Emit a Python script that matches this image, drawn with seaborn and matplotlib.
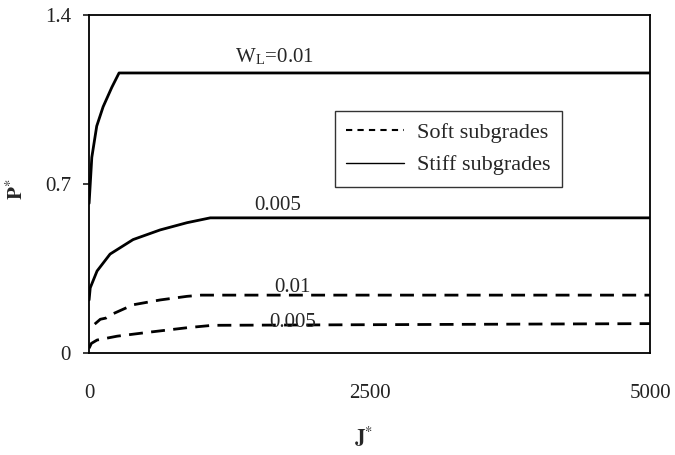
import matplotlib
matplotlib.use("Agg")
import matplotlib.pyplot as plt
import seaborn as sns
import pandas as pd
from matplotlib.lines import Line2D

# ---- data ----
stiff_001_J = [0, 24, 68, 125, 202, 267, 5000]
stiff_001_P = [0.62, 0.81, 0.94, 1.02, 1.10, 1.16, 1.16]

stiff_0005_J = [0, 10, 71, 187, 392, 633, 873, 1080, 5000]
stiff_0005_P = [0.22, 0.27, 0.34, 0.41, 0.47, 0.51, 0.54, 0.56, 0.56]

soft_001_J = [50, 100, 150, 200, 392, 633, 873, 1000, 5000]
soft_001_P = [0.12, 0.14, 0.145, 0.16, 0.20, 0.22, 0.235, 0.24, 0.24]

soft_0005_J = [0, 20, 71, 250, 544, 873, 1100, 5000]
soft_0005_P = [0.02, 0.04, 0.054, 0.07, 0.087, 0.105, 0.115, 0.122]

x_ticks = [0, 2500, 5000]
y_ticks = [0, 0.7, 1.4]
y_tick_labels = ["0", "0.7", "1.4"]

frames = []
for J, P, sub, wl in [
    (soft_001_J, soft_001_P, "Soft subgrades", "0.01"),
    (soft_0005_J, soft_0005_P, "Soft subgrades", "0.005"),
    (stiff_001_J, stiff_001_P, "Stiff subgrades", "0.01"),
    (stiff_0005_J, stiff_0005_P, "Stiff subgrades", "0.005"),
]:
    frames.append(pd.DataFrame({"J": J, "P": P, "Subgrade": sub, "WL": wl}))
df = pd.concat(frames, ignore_index=True)

sns.set_theme(style="white")
plt.rcParams["font.family"] = ["Liberation Serif", "DejaVu Serif"]
plt.rcParams["mathtext.fontset"] = "stix"

FS = 15

fig = plt.figure(figsize=(6.75, 4.55), dpi=100)
ax = fig.add_axes([0.132, 0.224, 0.831, 0.743])

sns.lineplot(data=df, x="J", y="P", style="Subgrade", units="WL",
             estimator=None, color="black", linewidth=2.0,
             dashes={"Soft subgrades": (5, 3), "Stiff subgrades": ""},
             style_order=["Soft subgrades", "Stiff subgrades"],
             legend=False, ax=ax)

ax.set_xlim(0, 5000)
ax.set_ylim(0, 1.4)
ax.set_xticks(x_ticks)
ax.set_xticklabels([str(v) for v in x_ticks])
ax.set_yticks(y_ticks)
ax.set_yticklabels(y_tick_labels)
ax.tick_params(axis="x", length=0, pad=22, labelsize=FS, colors="#222222")
ax.tick_params(axis="y", length=4, pad=9, labelsize=FS, colors="#222222",
               direction="out", left=True)
for s in ax.spines.values():
    s.set_color("black")
    s.set_linewidth(1.3)

ax.set_xlabel("")
ax.set_ylabel("")
fig.text(0.538, 0.04, r"$\mathbf{J}^{*}$", fontsize=15, ha="center", va="center")
fig.text(0.025, 0.585, r"$\mathbf{P}^{*}$", fontsize=15, ha="center", va="center",
         rotation=90)

ax.text(1649, 1.226, r"W$_\mathregular{L}$=0.01", fontsize=FS, ha="center", va="center")
ax.text(1684, 0.613, "0.005", fontsize=FS, ha="center", va="center")
ax.text(1810, 0.273, "0.01", fontsize=FS, ha="center", va="center")
ax.text(1818, 0.128, "0.005", fontsize=FS, ha="center", va="center")

handles = [Line2D([], [], color="black", lw=1.5, dashes=(3, 2.5)),
           Line2D([], [], color="black", lw=1.0)]
leg = ax.legend(handles, ["Soft subgrades", "Stiff subgrades"],
                loc="upper left", bbox_to_anchor=(0.438, 0.716),
                fontsize=16, frameon=True, fancybox=False,
                edgecolor="black", handlelength=2.6, handletextpad=0.6,
                borderpad=0.5, labelspacing=0.55, borderaxespad=0)
leg.get_frame().set_linewidth(1.0)

fig.savefig("out.png", dpi=100)
